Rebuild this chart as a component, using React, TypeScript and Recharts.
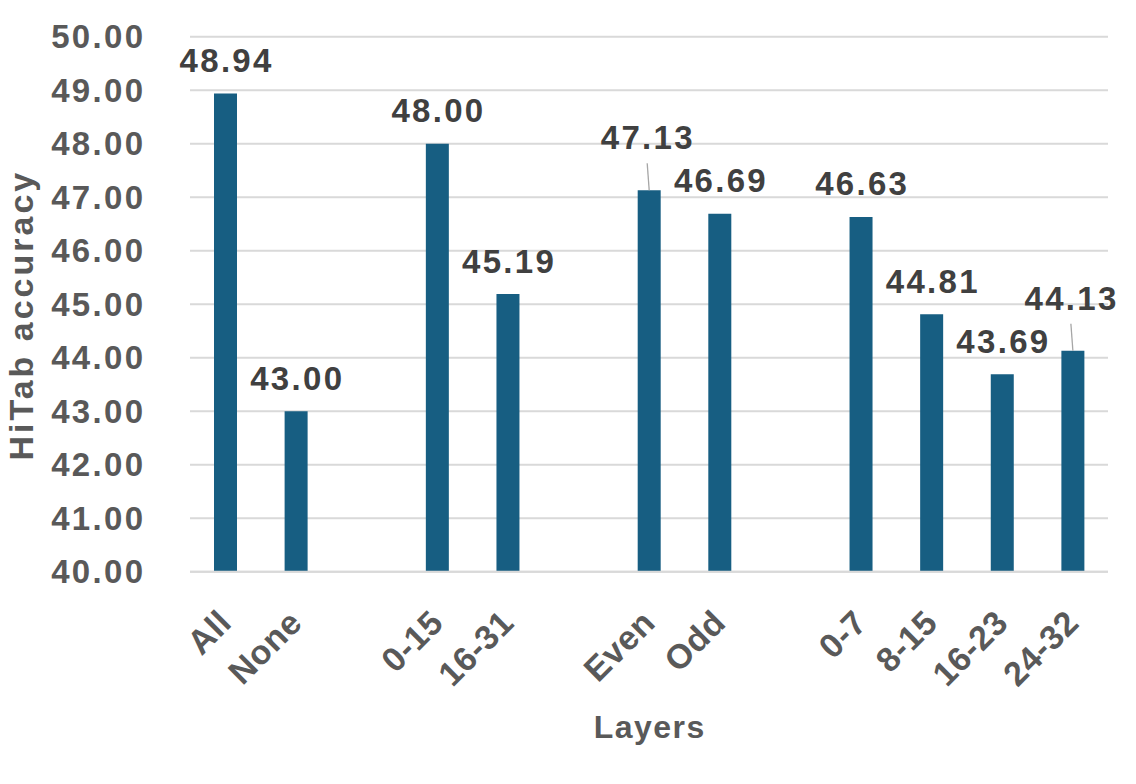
import React from 'react';
import { BarChart, Bar, XAxis, YAxis, CartesianGrid, LabelList } from 'recharts';

const categories = ['All', 'None', '', '0-15', '16-31', '', 'Even', 'Odd', '', '0-7', '8-15', '16-23', '24-32'];
const accuracy: (number | null)[] = [48.94, 43.0, null, 48.0, 45.19, null, 47.13, 46.69, null, 46.63, 44.81, 43.69, 44.13];
const yTicks = [40, 41, 42, 43, 44, 45, 46, 47, 48, 49, 50];
const yTitle = 'HiTab accuracy';
const xTitle = 'Layers';

const data = categories.map((name, i) => ({ key: `c${i}`, name, value: accuracy[i] }));

const FONT = "'Liberation Sans', Arial, Helvetica, sans-serif";
const BAR = '#175e82';
const TICK = '#595959';
const LABEL = '#404040';
const GRID = '#d9d9d9';

// labels that Excel moved upward with a leader line
const leaderLabels = new Set(['Even', '24-32']);
const leaderValues = new Set(
  categories.map((c, i) => (leaderLabels.has(c) ? accuracy[i] : null)).filter((v) => v != null)
);

const YTick = (props: any) => {
  const { x, y, payload } = props;
  const ls = 2.3;
  return (
    <text x={x} y={y} dy={11.5} dx={ls} textAnchor="end" fill={TICK} fontSize={33} fontWeight={700}
      fontFamily={FONT} letterSpacing={ls}>
      {Number(payload.value).toFixed(2)}
    </text>
  );
};

const XTick = (props: any) => {
  const { x, y, index } = props;
  const name = categories[index] ?? '';
  if (!name) return null;
  const ex = x + 8;
  const ey = y + 53;
  return (
    <text x={ex} y={ey} textAnchor="end" fill={TICK} fontSize={34} fontWeight={700} fontFamily={FONT}
      letterSpacing={0.5} transform={`rotate(-45, ${ex}, ${ey})`}>
      {name}
    </text>
  );
};

const DataLabel = (props: any) => {
  const { x, y, width, value } = props;
  if (value == null || x == null) return null;
  const cx = Number(x) + Number(width) / 2;
  const top = Number(y);
  const lifted = leaderValues.has(Number(value));
  const ls = 2.3;
  return (
    <g>
      {lifted && (
        <line x1={cx - 2} y1={top - 27} x2={cx} y2={top} stroke="#a6a6a6" strokeWidth={1.3} />
      )}
      <text x={lifted ? cx - 2.5 : cx} dx={ls / 2} y={lifted ? top - 41 : top - 21.5} textAnchor="middle"
        fill={LABEL} fontSize={33} fontWeight={700} fontFamily={FONT} letterSpacing={ls}>
        {Number(value).toFixed(2)}
      </text>
    </g>
  );
};

const YTitle = (props: any) => {
  const vb = props.viewBox || { x: 0, y: 0, width: 0, height: 0 };
  const bx = vb.x + 33;
  const cy = vb.y + vb.height / 2 + 11;
  return (
    <text x={bx} y={cy} textAnchor="middle" fill={TICK} fontSize={34} fontWeight={700} fontFamily={FONT}
      letterSpacing={3} transform={`rotate(-90, ${bx}, ${cy})`}>
      {yTitle}
    </text>
  );
};

const XTitle = (props: any) => {
  const vb = props.viewBox || { x: 0, y: 0, width: 0, height: 0 };
  const cx = vb.x + vb.width / 2;
  return (
    <text x={cx} dx={0.75} y={vb.y + 166} textAnchor="middle" fill={TICK} fontSize={32} fontWeight={700}
      fontFamily={FONT} letterSpacing={1.5}>
      {xTitle}
    </text>
  );
};

export default function App() {
  return (
    <div style={{ position: 'absolute', left: 0, top: 0, background: '#ffffff' }}>
      <BarChart width={1136} height={784} data={data} margin={{ top: 36.7, right: 28, bottom: 0, left: 0 }}>
        <CartesianGrid vertical={false} stroke={GRID} strokeWidth={2} />
        <XAxis dataKey="key" type="category" height={212.3} tickLine={false} tickSize={0} tickMargin={0}
          axisLine={{ stroke: GRID, strokeWidth: 2 }} interval={0} tick={<XTick />}
          label={{ content: <XTitle /> } as any} />
        <YAxis type="number" domain={[40, 50]} ticks={yTicks} width={190} tickSize={0} tickMargin={47}
          axisLine={false} tickLine={false} tick={<YTick />} interval={0}
          label={{ content: <YTitle /> } as any} />
        <Bar dataKey="value" fill={BAR} barSize={23} isAnimationActive={false}>
          <LabelList dataKey="value" content={<DataLabel />} />
        </Bar>
      </BarChart>
    </div>
  );
}
